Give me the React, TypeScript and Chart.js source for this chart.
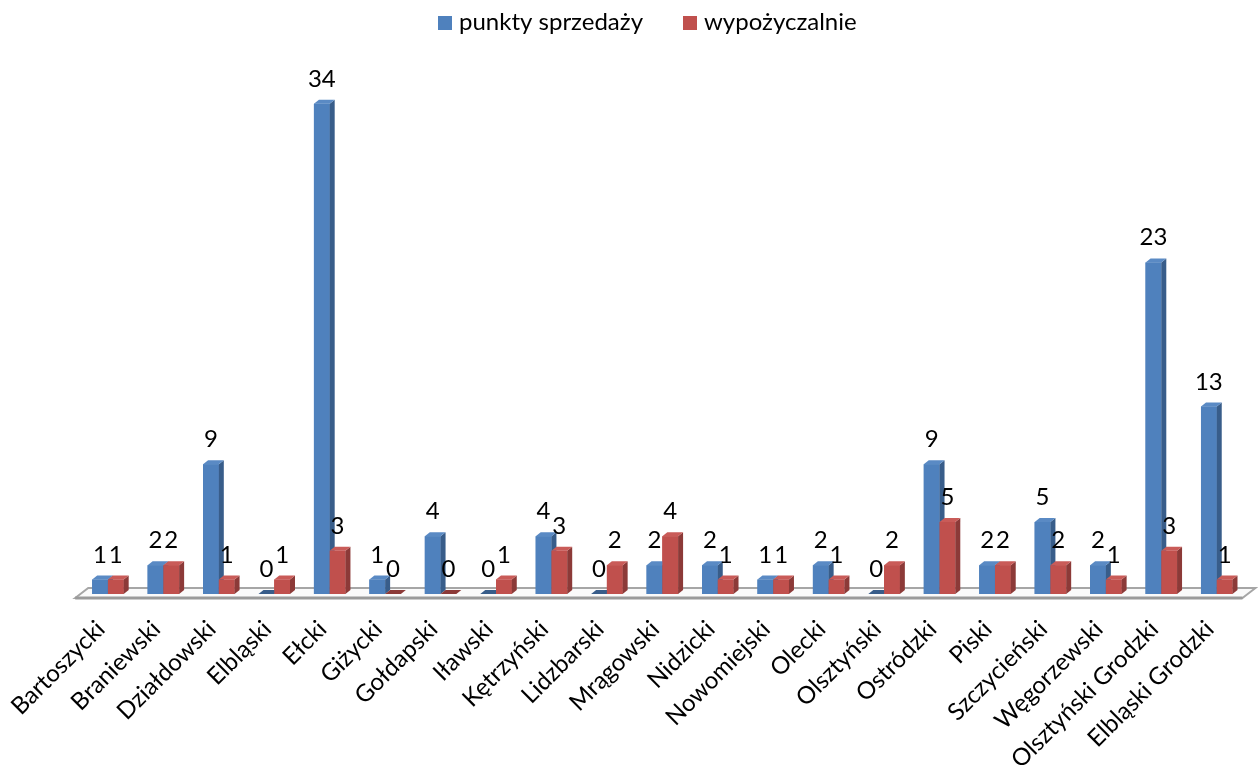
import React, { useEffect, useRef } from 'react';
import { Chart, registerables } from 'chart.js';

Chart.register(...registerables);

const categories = [
  'Bartoszycki', 'Braniewski', 'Działdowski', 'Elbląski', 'Ełcki', 'Giżycki', 'Gołdapski',
  'Iławski', 'Kętrzyński', 'Lidzbarski', 'Mrągowski', 'Nidzicki', 'Nowomiejski', 'Olecki',
  'Olsztyński', 'Ostródzki', 'Piski', 'Szczycieński', 'Węgorzewski', 'Olsztyński Grodzki',
  'Elbląski Grodzki',
];
const salesPoints = [1, 2, 9, 0, 34, 1, 4, 0, 4, 0, 2, 2, 1, 2, 0, 9, 2, 5, 2, 23, 13];
const rentals = [1, 2, 1, 1, 3, 0, 0, 1, 3, 2, 4, 1, 1, 1, 2, 5, 2, 2, 1, 3, 1];
const seriesNames = ['punkty sprzedaży', 'wypożyczalnie'];

const FONT = 'Lato, "Open Sans", sans-serif';
const DX = 5;
const DY = 4;

const BLUE = { front: '#4F81BD', side: '#385D8A', top: '#5A8AC4' };
const RED = { front: '#C0504D', side: '#8C3A38', top: '#C95B58' };

const floorPlugin = {
  id: 'floor3d',
  beforeDatasetsDraw(chart: any) {
    const { ctx, chartArea } = chart;
    const b = chartArea.bottom;
    const l = chartArea.left - 5;
    const r = chartArea.right - 2;
    ctx.save();
    ctx.beginPath();
    ctx.moveTo(l, b + 4);
    ctx.lineTo(l + 13, b - 6);
    ctx.lineTo(r + 13, b - 6);
    ctx.lineTo(r, b + 4);
    ctx.closePath();
    ctx.fillStyle = '#FAFAFA';
    ctx.fill();
    ctx.strokeStyle = '#A6A6A6';
    ctx.lineWidth = 2;
    ctx.stroke();
    ctx.beginPath();
    ctx.moveTo(l, b + 4);
    ctx.lineTo(r, b + 4);
    ctx.lineWidth = 3;
    ctx.strokeStyle = '#9A9A9A';
    ctx.stroke();
    ctx.restore();
  },
};

// Draw each category's bars left-to-right so the 3D faces overlap correctly.
const bars3dPlugin = {
  id: 'bars3d',
  beforeDatasetsDraw() {
    return true;
  },
  afterDatasetsDraw(chart: any) {
    const { ctx } = chart;
    const metas = chart.data.datasets.map((_: any, di: number) => chart.getDatasetMeta(di));
    const n = chart.data.labels.length;
    ctx.save();
    for (let i = 0; i < n; i++) {
      metas.forEach((meta: any, di: number) => {
        const ds: any = chart.data.datasets[di];
        const el = meta.data[i];
        if (!el) return;
        el.draw(ctx, chart.chartArea);
        const { x, y, base, width } = el.getProps(['x', 'y', 'base', 'width'], true);
        const left = x - width / 2;
        const right = x + width / 2;
        const top = Math.min(y, base);
        ctx.beginPath();
        ctx.moveTo(right, top);
        ctx.lineTo(right + DX, top - DY);
        ctx.lineTo(right + DX, base - DY);
        ctx.lineTo(right, base);
        ctx.closePath();
        ctx.fillStyle = ds.sideColor;
        ctx.fill();
        ctx.beginPath();
        ctx.moveTo(left, top);
        ctx.lineTo(left + DX, top - DY);
        ctx.lineTo(right + DX, top - DY);
        ctx.lineTo(right, top);
        ctx.closePath();
        ctx.fillStyle = base - top < 1 ? ds.sideColor : ds.topColor;
        ctx.fill();
      });
    }
    ctx.restore();
  },
};

const valueLabelsPlugin = {
  id: 'valueLabels',
  afterDatasetsDraw(chart: any) {
    const { ctx } = chart;
    ctx.save();
    ctx.font = `24px ${FONT}`;
    ctx.fillStyle = '#000';
    ctx.textAlign = 'center';
    ctx.textBaseline = 'alphabetic';
    chart.data.datasets.forEach((ds: any, di: number) => {
      const meta = chart.getDatasetMeta(di);
      meta.data.forEach((el: any, i: number) => {
        const { x, y, base } = el.getProps(['x', 'y', 'base'], true);
        ctx.fillText(String(ds.data[i]), x, Math.min(y, base) - 17);
      });
    });
    ctx.restore();
  },
};

const legendPlugin = {
  id: 'customLegend',
  afterDraw(chart: any) {
    const { ctx } = chart;
    ctx.save();
    ctx.font = `24px ${FONT}`;
    ctx.textBaseline = 'alphabetic';
    ctx.textAlign = 'left';
    let x = 438;
    chart.data.datasets.forEach((ds: any) => {
      ctx.fillStyle = ds.backgroundColor;
      ctx.fillRect(x, 16, 14, 14);
      ctx.fillStyle = '#000';
      ctx.fillText(ds.label, x + 21, 30);
      x += 21 + ctx.measureText(ds.label).width + 40;
    });
    ctx.restore();
  },
};

export default function App() {
  const ref = useRef<HTMLCanvasElement>(null);

  useEffect(() => {
    const chart = new Chart(ref.current as HTMLCanvasElement, {
      type: 'bar',
      data: {
        labels: categories,
        datasets: [
          {
            label: seriesNames[0],
            data: salesPoints,
            backgroundColor: BLUE.front,
            sideColor: BLUE.side,
            topColor: BLUE.top,
          } as any,
          {
            label: seriesNames[1],
            data: rentals,
            backgroundColor: RED.front,
            sideColor: RED.side,
            topColor: RED.top,
          } as any,
        ],
      },
      options: {
        animation: false,
        responsive: false,
        devicePixelRatio: 1,
        layout: { padding: { left: 76, top: 75, right: 0, bottom: 0 } },
        datasets: {
          bar: { categoryPercentage: 32 / 56.3, barPercentage: 1, borderWidth: 0 },
        },
        plugins: {
          legend: { display: false },
          tooltip: { enabled: false },
        },
        scales: {
          x: {
            grid: { display: false, drawTicks: false },
            border: { display: false },
            ticks: {
              autoSkip: false,
              minRotation: 45,
              maxRotation: 45,
              padding: 21,
              labelOffset: -7,
              color: '#000',
              font: { family: FONT, size: 24 },
            },
            afterFit(scale: any) {
              scale.height = 765 - 594;
            },
          },
          y: {
            display: false,
            min: 0,
            max: 36,
          },
        },
      },
      plugins: [floorPlugin, bars3dPlugin, valueLabelsPlugin, legendPlugin],
    });
    return () => chart.destroy();
  }, []);

  return (
    <div style={{ position: 'fixed', left: 0, top: 0, width: 1258, height: 765, background: '#fff' }}>
      <canvas ref={ref} width={1258} height={765} style={{ display: 'block' }} />
    </div>
  );
}
